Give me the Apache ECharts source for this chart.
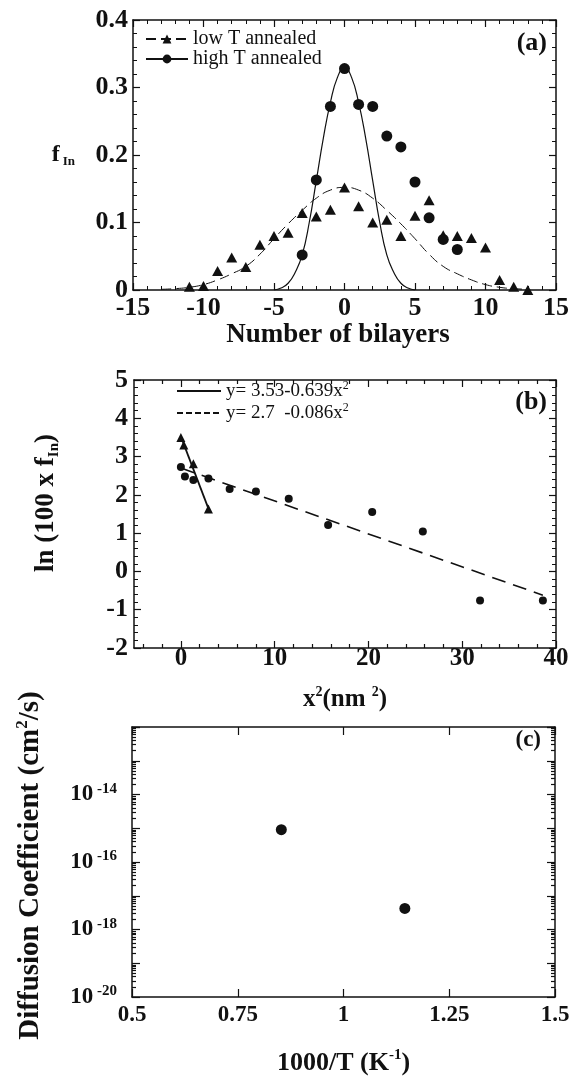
<!DOCTYPE html>
<html>
<head>
<meta charset="utf-8">
<title>In interdiffusion profiles</title>
<script src="https://cdn.jsdelivr.net/npm/echarts@6/dist/echarts.min.js"></script>
<style>
  html, body { margin: 0; padding: 0; background: #fff; }
  #chart { width: 576px; height: 1077px; }
</style>
</head>
<body>
<div id="chart"></div>
<script>
// (a) In fraction per bilayer
const bilayerLow = [-11, -10, -9, -8, -7, -6, -5, -4, -3, -2, -1, 0, 1, 2, 3, 4, 5, 6, 7, 8, 9, 10, 11, 12, 13]
const fLow = [0.005, 0.006, 0.028, 0.048, 0.034, 0.067, 0.080, 0.085, 0.114, 0.109, 0.119, 0.152, 0.124, 0.100,
  0.104, 0.080, 0.110, 0.133, 0.081, 0.080, 0.077, 0.063, 0.015, 0.005, 0.0]
const bilayerHigh = [-3, -2, -1, 0, 1, 2, 3, 4, 5, 6, 7, 8]
const fHigh = [0.052, 0.163, 0.272, 0.328, 0.275, 0.272, 0.228, 0.212, 0.160, 0.107, 0.075, 0.060]
// gaussian fits
const fitLowX = [-13, -12, -11, -10, -9, -8, -7, -6, -5, -4, -3, -2, -1, 0, 1, 2, 3, 4, 5, 6, 7, 8, 9, 10, 11, 12, 13]
const fitLowY = [0.001, 0.002, 0.004, 0.008, 0.015, 0.024, 0.035, 0.053, 0.076, 0.098, 0.118, 0.136, 0.148, 0.152,
  0.148, 0.136, 0.118, 0.098, 0.076, 0.053, 0.035, 0.024, 0.015, 0.008, 0.004, 0.002, 0.001]
const fitHighX = [-5, -4.5, -4, -3.5, -3, -2.5, -2, -1.5, -1, -0.5, 0, 0.5, 1, 1.5, 2, 2.5, 3, 3.5, 4, 4.5, 5]
const fitHighY = [0.0, 0.003, 0.010, 0.026, 0.052, 0.100, 0.162, 0.225, 0.278, 0.315, 0.330,
  0.315, 0.278, 0.225, 0.162, 0.100, 0.052, 0.026, 0.010, 0.003, 0.0]

// (b) ln(100 f) vs x^2
const x2High = [0, 0.43, 1.33, 2.94, 5.2, 8.0, 11.5, 15.7, 20.4, 25.8, 31.9, 38.6]
const lnHigh = [2.73, 2.48, 2.39, 2.43, 2.15, 2.09, 1.90, 1.21, 1.55, 1.04, -0.76, -0.76]
const x2Low = [0, 0.31, 1.33, 2.94]
const lnLow = [3.50, 3.30, 2.81, 1.63]
const steepX = [0, 2.94]
const steepY = [3.52, 1.64]
const shallowX = [0, 38.6]
const shallowY = [2.7, -0.62]
const bMajor = [0, 10, 20, 30, 40]
const bMinor = [-4, -2, 2, 4, 6, 8, 12, 14, 16, 18, 22, 24, 26, 28, 32, 34, 36, 38]

// (c) diffusion coefficient vs 1000/T
const invT = [0.853, 1.145]
const diffCoef = [9.1e-16, 4.2e-18]
const cLabelExp = [-20, -18, -16, -14]

const INK = '#111'
const SERIF = 'Liberation Serif, "Times New Roman", serif'

function zip (xs, ys) {
  return xs.map((x, i) => [x, ys[i]])
}

// minor ticks of the log axis, placed in log10 space on an overlay axis
const logMinor = []
for (let n = -20; n < -12; n++) {
  for (let k = 2; k <= 9; k++) logMinor.push(n + Math.log10(k))
}

function rich (size) {
  return {
    t: { fontSize: size, fontWeight: 'bold', fontFamily: SERIF, color: INK, lineHeight: size + 4 },
    s: { fontSize: Math.round(size * 0.58), fontWeight: 'bold', fontFamily: SERIF, color: INK, verticalAlign: 'top', lineHeight: Math.round(size * 0.58) },
    u: { fontSize: Math.round(size * 0.55), fontWeight: 'bold', fontFamily: SERIF, color: INK, verticalAlign: 'bottom', lineHeight: Math.round(size * 0.55) }
  }
}

function axis (grid, pos, min, max, o) {
  o = o || {}
  return {
    type: o.type || 'value',
    gridIndex: grid,
    position: pos,
    min: min,
    max: max,
    interval: o.interval,
    splitNumber: o.splitNumber,
    logBase: o.logBase,
    axisLine: { show: o.line !== false, onZero: false, lineStyle: { color: INK, width: 1.5 } },
    axisTick: { show: true, inside: true, length: o.tickLen || 7, customValues: o.ticks, lineStyle: { color: INK, width: 1.2 } },
    minorTick: { show: !!o.minor, splitNumber: o.minor || 5, length: 4, lineStyle: { color: INK, width: 1 } },
    splitLine: { show: false },
    axisLabel: o.label
      ? Object.assign({ color: INK, fontFamily: SERIF, fontWeight: 'bold', showMinLabel: true, showMaxLabel: true }, o.label)
      : { show: false },
    name: o.name,
    nameLocation: 'middle',
    nameGap: o.nameGap,
    nameRotate: o.nameRotate,
    nameTextStyle: o.nameStyle
  }
}

const chart = echarts.init(document.getElementById('chart'))

const option = {
  animation: false,
  backgroundColor: '#fff',
  textStyle: { fontFamily: SERIF },
  title: [
    { text: '(a)', right: 29, top: 30, padding: 0, textStyle: { fontSize: 26, fontWeight: 'bold', fontFamily: SERIF, color: INK } },
    { text: '(b)', right: 29, top: 389, padding: 0, textStyle: { fontSize: 26, fontWeight: 'bold', fontFamily: SERIF, color: INK } },
    { text: '(c)', right: 35, top: 729, padding: 0, textStyle: { fontSize: 23, fontWeight: 'bold', fontFamily: SERIF, color: INK } }
  ],
  legend: [
    {
      orient: 'vertical',
      left: 145,
      top: 29,
      itemWidth: 42,
      itemHeight: 11,
      itemGap: 0,
      padding: 0,
      data: ['low T annealed', 'high T annealed'],
      textStyle: { fontFamily: SERIF, fontSize: 20, color: INK, lineHeight: 17 }
    },
    {
      orient: 'vertical',
      left: 176,
      top: 380,
      itemWidth: 44,
      itemHeight: 10,
      itemGap: 0,
      padding: 0,
      itemStyle: { opacity: 0 },
      data: [
        { name: 'steep' },
        { name: 'shallow', lineStyle: { type: [6, 3] } }
      ],
      formatter: function (name) {
        return name === 'steep' ? '{t|y= 3.53-0.639x}{s|2}' : '{t|y= 2.7  -0.086x}{s|2}'
      },
      textStyle: {
        lineHeight: 25,
        rich: {
          t: { fontFamily: SERIF, fontSize: 19, color: INK, lineHeight: 22 },
          s: { fontFamily: SERIF, fontSize: 12, color: INK, verticalAlign: 'top', lineHeight: 12 }
        }
      }
    }
  ],
  grid: [
    { left: 133, top: 20, width: 423, height: 270 },
    { left: 134, top: 380, width: 422, height: 268 },
    { left: 132, top: 727, width: 423, height: 271 }
  ],
  xAxis: [
    axis(0, 'bottom', -15, 15, {
      interval: 5, minor: 5,
      label: { fontSize: 26, margin: 5 },
      name: '{t|Number of bilayers}', nameGap: 29,
      nameStyle: { rich: rich(27), padding: [0, 13, 0, 0] }
    }),
    axis(0, 'top', -15, 15, { interval: 5, minor: 5 }),
    axis(1, 'bottom', -5, 40, {
      ticks: bMajor,
      label: { fontSize: 25, margin: -2, customValues: bMajor },
      name: '{t|x}{s|2}{t|(nm }{s|2}{t|)}', nameGap: 37,
      nameStyle: { rich: rich(25) }
    }),
    axis(1, 'bottom', -5, 40, { ticks: bMinor, tickLen: 4, line: false }),
    axis(1, 'top', -5, 40, { ticks: bMajor }),
    axis(1, 'top', -5, 40, { ticks: bMinor, tickLen: 4, line: false }),
    axis(2, 'bottom', 0.5, 1.5, {
      interval: 0.25, tickLen: 8,
      label: { fontSize: 23, margin: 7 },
      name: '{t|1000/T (K}{s|-1}{t|)}', nameGap: 51,
      nameStyle: { rich: rich(26) }
    }),
    axis(2, 'top', 0.5, 1.5, { interval: 0.25, tickLen: 8 })
  ],
  yAxis: [
    axis(0, 'left', 0, 0.4, {
      interval: 0.1, minor: 5,
      label: { fontSize: 26, margin: 5 },
      name: '{f|f}{u|In}', nameGap: 58, nameRotate: 0,
      nameStyle: {
        rich: {
          f: { fontSize: 24, fontWeight: 'bold', fontFamily: SERIF, color: INK, lineHeight: 26 },
          u: { fontSize: 13, fontWeight: 'bold', fontFamily: SERIF, color: INK, verticalAlign: 'bottom', lineHeight: 14, padding: [0, 0, 0, 3] }
        }
      }
    }),
    axis(0, 'right', 0, 0.4, { interval: 0.1, minor: 5 }),
    axis(1, 'left', -2, 5, {
      interval: 1, minor: 5,
      label: { fontSize: 26, margin: 6 },
      name: '{t|ln (100 x f}{u|In}{t|)}', nameGap: 72,
      nameStyle: { rich: rich(27), padding: [0, 0, 0, 22] }
    }),
    axis(1, 'right', -2, 5, { interval: 1, minor: 5 }),
    axis(2, 'left', 1e-20, 1e-12, {
      type: 'log', logBase: 10, splitNumber: 8, tickLen: 8,
      label: {
        margin: 15,
        formatter: function (v) {
          const e = Math.round(Math.log10(v))
          return cLabelExp.indexOf(e) >= 0 ? '{b|10}{e| ' + e + '}' : ''
        },
        rich: {
          b: { fontSize: 23, fontWeight: 'bold', fontFamily: SERIF, color: INK, lineHeight: 26 },
          e: { fontSize: 15, fontWeight: 'bold', fontFamily: SERIF, color: INK, verticalAlign: 'top', lineHeight: 14 }
        }
      },
      name: '{t|Diffusion Coefficient (cm}{s|2}{t|/s)}', nameGap: 85,
      nameStyle: { rich: rich(29), padding: [0, 7, 0, 0] }
    }),
    axis(2, 'left', -20, -12, { ticks: logMinor, tickLen: 4, line: false }),
    axis(2, 'right', 1e-20, 1e-12, { type: 'log', logBase: 10, splitNumber: 8, tickLen: 8 }),
    axis(2, 'right', -20, -12, { ticks: logMinor, tickLen: 4, line: false })
  ],
  series: [
    {
      name: 'low T annealed',
      type: 'line',
      xAxisIndex: 0,
      yAxisIndex: 0,
      data: zip(fitLowX, fitLowY),
      smooth: true,
      symbol: 'triangle',
      showSymbol: false,
      itemStyle: { color: INK },
      lineStyle: { color: INK, width: 1, type: [10, 5] },
      silent: true,
      z: 2
    },
    {
      name: 'high T annealed',
      type: 'line',
      xAxisIndex: 0,
      yAxisIndex: 0,
      data: zip(fitHighX, fitHighY),
      smooth: true,
      symbol: 'circle',
      showSymbol: false,
      itemStyle: { color: INK },
      lineStyle: { color: INK, width: 1.2 },
      silent: true,
      z: 2
    },
    {
      name: 'low T points',
      type: 'scatter',
      xAxisIndex: 0,
      yAxisIndex: 0,
      symbol: 'triangle',
      symbolSize: [11, 10],
      itemStyle: { color: INK, opacity: 1 },
      data: zip(bilayerLow, fLow),
      z: 3
    },
    {
      name: 'high T points',
      type: 'scatter',
      xAxisIndex: 0,
      yAxisIndex: 0,
      symbol: 'circle',
      symbolSize: 11,
      itemStyle: { color: INK, opacity: 1 },
      data: zip(bilayerHigh, fHigh),
      z: 4
    },
    {
      name: 'steep',
      type: 'line',
      xAxisIndex: 2,
      yAxisIndex: 2,
      data: zip(steepX, steepY),
      symbol: 'none',
      lineStyle: { color: INK, width: 1.8 },
      itemStyle: { color: INK },
      silent: true
    },
    {
      name: 'shallow',
      type: 'line',
      xAxisIndex: 2,
      yAxisIndex: 2,
      data: zip(shallowX, shallowY),
      symbol: 'none',
      lineStyle: { color: INK, width: 1.6, type: [14, 8] },
      itemStyle: { color: INK },
      silent: true
    },
    {
      name: 'high T ln',
      type: 'scatter',
      xAxisIndex: 2,
      yAxisIndex: 2,
      symbol: 'circle',
      symbolSize: 8,
      itemStyle: { color: INK, opacity: 1 },
      data: zip(x2High, lnHigh)
    },
    {
      name: 'low T ln',
      type: 'scatter',
      xAxisIndex: 2,
      yAxisIndex: 2,
      symbol: 'triangle',
      symbolSize: [9, 9],
      itemStyle: { color: INK, opacity: 1 },
      data: zip(x2Low, lnLow)
    },
    {
      name: 'D',
      type: 'scatter',
      xAxisIndex: 6,
      yAxisIndex: 4,
      symbol: 'circle',
      symbolSize: 11,
      itemStyle: { color: INK, opacity: 1 },
      data: zip(invT, diffCoef)
    }
  ]
}

chart.setOption(option)
</script>
</body>
</html>
